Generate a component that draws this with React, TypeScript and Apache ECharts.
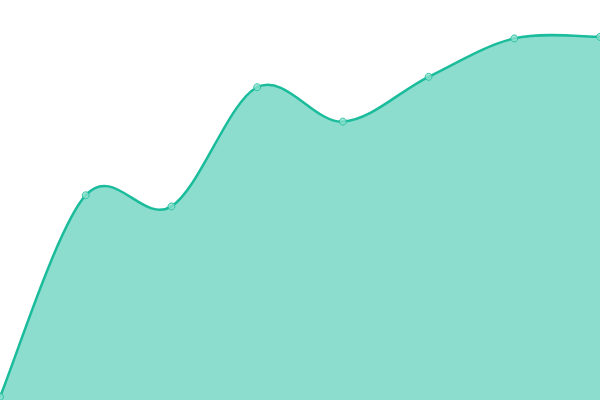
import React, { useEffect, useRef } from "react";
import * as echarts from "echarts";

// categories are unlabelled in the picture
const categories = ["1", "2", "3", "4", "5", "6", "7", "8"];
const values = [0.8, 51.2, 48.4, 78.2, 69.6, 80.8, 90.4, 90.8];

const LINE = "#1abc9c";

// catmull-rom through the projected points, as cubic beziers
const splinePath = (pts: number[][]) => {
  let d = `M${pts[0][0]},${pts[0][1]}`;
  for (let i = 0; i < pts.length - 1; i++) {
    const p0 = pts[Math.max(i - 1, 0)];
    const p1 = pts[i];
    const p2 = pts[i + 1];
    const p3 = pts[Math.min(i + 2, pts.length - 1)];
    const c1x = p1[0] + (p2[0] - p0[0]) / 6;
    const c1y = p1[1] + (p2[1] - p0[1]) / 6;
    const c2x = p2[0] - (p3[0] - p1[0]) / 6;
    const c2y = p2[1] - (p3[1] - p1[1]) / 6;
    d += ` C${c1x},${c1y} ${c2x},${c2y} ${p2[0]},${p2[1]}`;
  }
  return d;
};

const App: React.FC = () => {
  const chartRef = useRef<HTMLDivElement>(null);

  useEffect(() => {
    if (!chartRef.current) return;
    const chart = echarts.init(chartRef.current, undefined, { renderer: "svg" });
    const option: echarts.EChartsOption = {
      animation: false,
      grid: { left: 0, right: 0, top: 0, bottom: 0 },
      xAxis: {
        type: "category",
        boundaryGap: false,
        data: categories,
        show: false,
      },
      yAxis: { type: "value", min: 0, max: 100, show: false },
      series: [
        {
          type: "custom",
          clip: false,
          data: values.map((v, i) => [i, v]),
          renderItem: (params: any, api: any) => {
            if (params.dataIndex !== 0) return null;
            const pts = values.map((v, i) => api.coord([i, v]));
            const line = splinePath(pts);
            const last = pts[pts.length - 1];
            const base = api.coord([values.length - 1, 0])[1];
            const area = `${line} L${last[0]},${base} L${pts[0][0]},${base} Z`;
            return {
              type: "group",
              children: [
                {
                  type: "path",
                  shape: { pathData: area },
                  style: { fill: LINE, opacity: 0.5 },
                },
                {
                  type: "path",
                  shape: { pathData: line },
                  style: { fill: "none", stroke: LINE, lineWidth: 2.5 },
                },
              ],
            };
          },
        },
        {
          type: "scatter",
          data: values.map((v, i) => [i, v]),
          symbol: "circle",
          symbolSize: 7,
          itemStyle: { color: "#8be0cd", borderColor: LINE, borderWidth: 1 },
          z: 3,
        },
      ],
    };
    chart.setOption(option);
    return () => {
      chart.dispose();
    };
  }, []);

  return (
    <div
      ref={chartRef}
      style={{ position: "fixed", left: 0, top: 0, width: 600, height: 400 }}
    />
  );
};

export default App;
